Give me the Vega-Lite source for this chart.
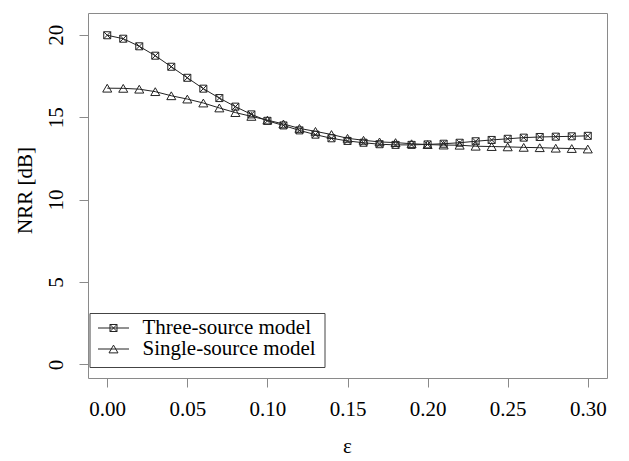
{
  "$schema": "https://vega.github.io/schema/vega-lite/v6.json",
  "width": 519,
  "height": 365,
  "autosize": "none",
  "padding": {"left": 88, "top": 13, "right": 22, "bottom": 83},
  "background": "white",
  "config": {"view": {"stroke": "#8a8a8a", "strokeWidth": 1}, "font": "Liberation Serif"},
  "data": {"values": [
    {"eps": 0.00, "nrr": 19.97, "series": "Three-source model"},
    {"eps": 0.01, "nrr": 19.76, "series": "Three-source model"},
    {"eps": 0.02, "nrr": 19.30, "series": "Three-source model"},
    {"eps": 0.03, "nrr": 18.73, "series": "Three-source model"},
    {"eps": 0.04, "nrr": 18.06, "series": "Three-source model"},
    {"eps": 0.05, "nrr": 17.39, "series": "Three-source model"},
    {"eps": 0.06, "nrr": 16.73, "series": "Three-source model"},
    {"eps": 0.07, "nrr": 16.16, "series": "Three-source model"},
    {"eps": 0.08, "nrr": 15.64, "series": "Three-source model"},
    {"eps": 0.09, "nrr": 15.17, "series": "Three-source model"},
    {"eps": 0.10, "nrr": 14.78, "series": "Three-source model"},
    {"eps": 0.11, "nrr": 14.50, "series": "Three-source model"},
    {"eps": 0.12, "nrr": 14.20, "series": "Three-source model"},
    {"eps": 0.13, "nrr": 13.94, "series": "Three-source model"},
    {"eps": 0.14, "nrr": 13.72, "series": "Three-source model"},
    {"eps": 0.15, "nrr": 13.56, "series": "Three-source model"},
    {"eps": 0.16, "nrr": 13.45, "series": "Three-source model"},
    {"eps": 0.17, "nrr": 13.36, "series": "Three-source model"},
    {"eps": 0.18, "nrr": 13.32, "series": "Three-source model"},
    {"eps": 0.19, "nrr": 13.32, "series": "Three-source model"},
    {"eps": 0.20, "nrr": 13.35, "series": "Three-source model"},
    {"eps": 0.21, "nrr": 13.39, "series": "Three-source model"},
    {"eps": 0.22, "nrr": 13.45, "series": "Three-source model"},
    {"eps": 0.23, "nrr": 13.54, "series": "Three-source model"},
    {"eps": 0.24, "nrr": 13.62, "series": "Three-source model"},
    {"eps": 0.25, "nrr": 13.69, "series": "Three-source model"},
    {"eps": 0.26, "nrr": 13.76, "series": "Three-source model"},
    {"eps": 0.27, "nrr": 13.80, "series": "Three-source model"},
    {"eps": 0.28, "nrr": 13.82, "series": "Three-source model"},
    {"eps": 0.29, "nrr": 13.84, "series": "Three-source model"},
    {"eps": 0.30, "nrr": 13.87, "series": "Three-source model"},
    {"eps": 0.00, "nrr": 16.76, "series": "Single-source model"},
    {"eps": 0.01, "nrr": 16.75, "series": "Single-source model"},
    {"eps": 0.02, "nrr": 16.70, "series": "Single-source model"},
    {"eps": 0.03, "nrr": 16.55, "series": "Single-source model"},
    {"eps": 0.04, "nrr": 16.30, "series": "Single-source model"},
    {"eps": 0.05, "nrr": 16.10, "series": "Single-source model"},
    {"eps": 0.06, "nrr": 15.86, "series": "Single-source model"},
    {"eps": 0.07, "nrr": 15.56, "series": "Single-source model"},
    {"eps": 0.08, "nrr": 15.28, "series": "Single-source model"},
    {"eps": 0.09, "nrr": 15.05, "series": "Single-source model"},
    {"eps": 0.10, "nrr": 14.82, "series": "Single-source model"},
    {"eps": 0.11, "nrr": 14.59, "series": "Single-source model"},
    {"eps": 0.12, "nrr": 14.32, "series": "Single-source model"},
    {"eps": 0.13, "nrr": 14.14, "series": "Single-source model"},
    {"eps": 0.14, "nrr": 13.95, "series": "Single-source model"},
    {"eps": 0.15, "nrr": 13.72, "series": "Single-source model"},
    {"eps": 0.16, "nrr": 13.60, "series": "Single-source model"},
    {"eps": 0.17, "nrr": 13.50, "series": "Single-source model"},
    {"eps": 0.18, "nrr": 13.46, "series": "Single-source model"},
    {"eps": 0.19, "nrr": 13.39, "series": "Single-source model"},
    {"eps": 0.20, "nrr": 13.34, "series": "Single-source model"},
    {"eps": 0.21, "nrr": 13.31, "series": "Single-source model"},
    {"eps": 0.22, "nrr": 13.30, "series": "Single-source model"},
    {"eps": 0.23, "nrr": 13.24, "series": "Single-source model"},
    {"eps": 0.24, "nrr": 13.22, "series": "Single-source model"},
    {"eps": 0.25, "nrr": 13.20, "series": "Single-source model"},
    {"eps": 0.26, "nrr": 13.17, "series": "Single-source model"},
    {"eps": 0.27, "nrr": 13.15, "series": "Single-source model"},
    {"eps": 0.28, "nrr": 13.12, "series": "Single-source model"},
    {"eps": 0.29, "nrr": 13.10, "series": "Single-source model"},
    {"eps": 0.30, "nrr": 13.07, "series": "Single-source model"}
  ]},
  "encoding": {
    "x": {
      "field": "eps", "type": "quantitative",
      "scale": {"domain": [-0.012, 0.312], "nice": false, "zero": false},
      "axis": {
        "values": [0, 0.05, 0.1, 0.15, 0.2, 0.25, 0.3], "format": ".2f",
        "title": "ε", "domain": false, "grid": false,
        "tickColor": "#8a8a8a", "tickSize": 9, "tickWidth": 1,
        "labelFont": "Liberation Serif", "labelFontSize": 21, "labelColor": "black",
        "labelBaseline": "alphabetic", "labelPadding": 28, "labelFlush": false, "labelOverlap": false,
        "titleFont": "Liberation Serif", "titleFontSize": 21, "titleFontWeight": "normal", "titleColor": "black",
        "titleX": 259, "titleY": 74, "titleBaseline": "alphabetic", "titleAlign": "center"
      }
    },
    "y": {
      "field": "nrr", "type": "quantitative",
      "scale": {"domain": [-0.82, 21.32], "nice": false, "zero": false},
      "axis": {
        "values": [0, 5, 10, 15, 20],
        "title": "NRR [dB]", "domain": false, "grid": false,
        "tickColor": "#8a8a8a", "tickSize": 9, "tickWidth": 1,
        "labelFont": "Liberation Serif", "labelFontSize": 21, "labelColor": "black",
        "labelAngle": -90, "labelAlign": "center", "labelBaseline": "alphabetic", "labelPadding": 17,
        "labelFlush": false, "labelOverlap": false,
        "titleFont": "Liberation Serif", "titleFontSize": 21, "titleFontWeight": "normal", "titleColor": "black",
        "titleAngle": -90, "titleX": -57, "titleY": 177, "titleBaseline": "alphabetic", "titleAlign": "center"
      }
    }
  },
  "layer": [
    {
      "mark": {"type": "line", "stroke": "#222", "strokeWidth": 1},
      "encoding": {"detail": {"field": "series"}}
    },
    {
      "mark": {"type": "point", "filled": false, "stroke": "#222", "strokeWidth": 1, "size": 49, "opacity": 1},
      "encoding": {
        "shape": {
          "field": "series",
          "scale": {
            "domain": ["Three-source model", "Single-source model"],
            "range": ["M-1,-1H1V1H-1ZM-1,-1L1,1M-1,1L1,-1", "M0,-1.115L1.29,1.115L-1.29,1.115Z"]
          },
          "legend": null
        }
      }
    },
    {
      "mark": {"type": "point", "filled": false, "stroke": "#222", "strokeWidth": 1, "size": 961, "opacity": 0},
      "encoding": {
        "shape": {
          "field": "series",
          "scale": {
            "domain": ["Three-source model", "Single-source model"],
            "range": [
              "M-1,0H1M-0.226,-0.226H0.226V0.226H-0.226ZM-0.226,-0.226L0.226,0.226M-0.226,0.226L0.226,-0.226",
              "M-1,0H1M0,-0.25L0.29,0.25L-0.29,0.25Z"
            ]
          },
          "legend": {
            "title": null, "orient": "none", "legendX": 1.5, "legendY": 300, "direction": "vertical",
            "strokeColor": "#444", "fillColor": "white", "padding": 8,
            "labelFont": "Liberation Serif", "labelFontSize": 21, "labelColor": "black", "labelOffset": 13, "labelLimit": 400,
            "symbolOpacity": 1, "symbolStrokeColor": "#222", "symbolStrokeWidth": 1, "symbolFillColor": "transparent",
            "symbolSize": 961, "rowPadding": 0, "clipHeight": 14
          }
        }
      }
    }
  ],
  "resolve": {"scale": {"shape": "independent"}, "legend": {"shape": "independent"}}
}
